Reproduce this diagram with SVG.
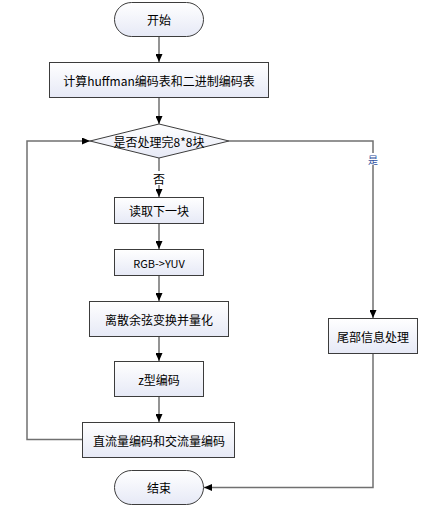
<svg xmlns="http://www.w3.org/2000/svg" width="422" height="509" viewBox="0 0 422 509">
<style>
.n{stroke:#3c3c3c;stroke-width:1;fill:url(#g)}
.t{font-family:"Noto Sans CJK SC","Liberation Sans",sans-serif;font-size:12px;fill:#000;text-anchor:middle;dominant-baseline:central}
.c{stroke:#707070;stroke-width:1.5;fill:none}
.l{font-family:"Noto Sans CJK SC","Liberation Sans",sans-serif;font-size:10px;text-anchor:middle;dominant-baseline:central}
</style>
<defs>
<linearGradient id="g" x1="0" y1="0" x2="0" y2="1">
<stop offset="0" stop-color="#ffffff"/>
<stop offset="1" stop-color="#e6e9f6"/>
</linearGradient>
<marker id="a" viewBox="0 0 8 7" refX="8" refY="3.5" markerWidth="8" markerHeight="7" orient="auto" markerUnits="userSpaceOnUse">
<path d="M0,0 L8,3.5 L0,7 z" fill="#000"/>
</marker>
</defs>
<rect width="422" height="509" fill="#fff"/>
<g id="connectors">
<path class="c" d="M159,37 V62" marker-end="url(#a)"/>
<path class="c" d="M159,98 V124" marker-end="url(#a)"/>
<path class="c" d="M159,158 V197" marker-end="url(#a)"/>
<path class="c" d="M159,224 V249" marker-end="url(#a)"/>
<path class="c" d="M159,276 V301" marker-end="url(#a)"/>
<path class="c" d="M159,337 V361" marker-end="url(#a)"/>
<path class="c" d="M159,397 V422" marker-end="url(#a)"/>
<path class="c" d="M82,439.5 H27 V141 H90" marker-end="url(#a)"/>
<path class="c" d="M229,141 H373 V318" marker-end="url(#a)"/>
<path class="c" d="M373,354 V487.5 H204" marker-end="url(#a)"/>
<rect x="151" y="171" width="16" height="14" fill="#fff"/>
<text class="t" x="159" y="178">否</text>
<rect x="367" y="153" width="12" height="12" fill="#fff"/>
<text class="l" x="373" y="159" fill="#2f4fa0">是</text>
</g>
<g id="start"><rect class="n" x="114.5" y="2.5" width="89" height="34" rx="17"/><text class="t" x="159" y="19.5">开始</text></g>
<g id="calc"><rect class="n" x="49.5" y="62.5" width="219" height="35"/><text class="t" x="159" y="80">计算huffman编码表和二进制编码表</text></g>
<g id="decision"><path class="n" d="M159,124 L229,141 L159,158 L90,141 z"/><text class="t" x="159" y="141">是否处理完8*8块</text></g>
<g id="read"><rect class="n" x="114.5" y="197.5" width="89" height="26"/><text class="t" x="159" y="210.5">读取下一块</text></g>
<g id="rgb"><rect class="n" x="114.5" y="249.5" width="89" height="26"/><text class="t" x="159" y="262.5" style="font-size:11px">RGB-&gt;YUV</text></g>
<g id="dct"><rect class="n" x="89.5" y="301.5" width="139" height="35"/><text class="t" x="159" y="319">离散余弦变换并量化</text></g>
<g id="zigzag"><rect class="n" x="114.5" y="361.5" width="89" height="35"/><text class="t" x="159" y="379">z型编码</text></g>
<g id="dcac"><rect class="n" x="82.5" y="422.5" width="152" height="35"/><text class="t" x="159" y="440">直流量编码和交流量编码</text></g>
<g id="tail"><rect class="n" x="328.5" y="318.5" width="89" height="35"/><text class="t" x="373" y="336">尾部信息处理</text></g>
<g id="end"><rect class="n" x="114.5" y="470.5" width="89" height="34" rx="17"/><text class="t" x="159" y="487.5">结束</text></g>
</svg>
